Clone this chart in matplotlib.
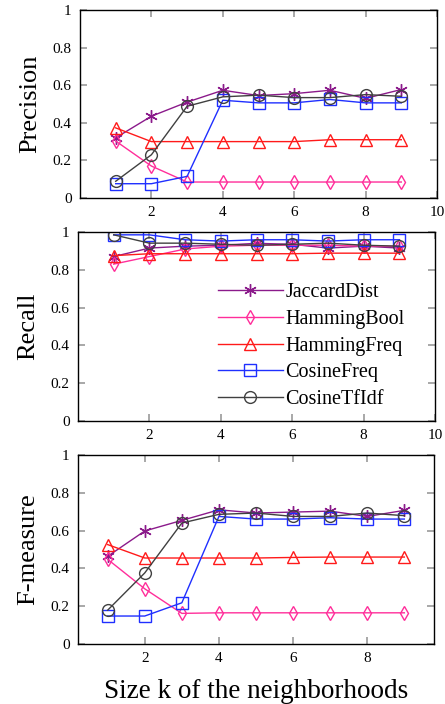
import matplotlib.pyplot as plt
import numpy as np

k = np.arange(1, 10)

names = ["JaccardDist", "HammingBool", "HammingFreq", "CosineFreq", "CosineTfIdf"]
colors = ["#8b1a8b", "#ff2e9a", "#ff1a1a", "#1f2fff", "#404040"]
markers = [(6, 2, 0), "d", "^", "s", "o"]
msizes = [9, 7, 8, 8.5, 8.5]

precision = {
    "JaccardDist": [0.32, 0.435, 0.51, 0.573, 0.545, 0.555, 0.573, 0.53, 0.577],
    "HammingBool": [0.303, 0.17, 0.085, 0.085, 0.085, 0.085, 0.085, 0.085, 0.085],
    "HammingFreq": [0.373, 0.30, 0.30, 0.30, 0.30, 0.30, 0.31, 0.31, 0.31],
    "CosineFreq": [0.076, 0.076, 0.115, 0.52, 0.506, 0.506, 0.524, 0.506, 0.506],
    "CosineTfIdf": [0.089, 0.23, 0.488, 0.538, 0.547, 0.534, 0.534, 0.55, 0.541],
}
recall = {
    "JaccardDist": [0.87, 0.915, 0.925, 0.93, 0.94, 0.935, 0.915, 0.925, 0.915],
    "HammingBool": [0.83, 0.87, 0.91, 0.925, 0.93, 0.93, 0.93, 0.925, 0.925],
    "HammingFreq": [0.875, 0.885, 0.885, 0.885, 0.885, 0.885, 0.888, 0.888, 0.888],
    "CosineFreq": [0.985, 0.985, 0.959, 0.952, 0.959, 0.959, 0.952, 0.959, 0.959],
    "CosineTfIdf": [0.985, 0.941, 0.941, 0.935, 0.93, 0.935, 0.941, 0.93, 0.925],
}
fmeasure = {
    "JaccardDist": [0.464, 0.598, 0.654, 0.71, 0.693, 0.698, 0.703, 0.675, 0.707],
    "HammingBool": [0.448, 0.292, 0.162, 0.165, 0.165, 0.165, 0.165, 0.165, 0.165],
    "HammingFreq": [0.526, 0.455, 0.455, 0.455, 0.455, 0.458, 0.46, 0.46, 0.46],
    "CosineFreq": [0.148, 0.148, 0.218, 0.675, 0.661, 0.661, 0.668, 0.661, 0.661],
    "CosineTfIdf": [0.179, 0.376, 0.64, 0.686, 0.693, 0.675, 0.675, 0.693, 0.679],
}

yticks = [0, 0.2, 0.4, 0.6, 0.8, 1]
ytick_labels = ["0", "0.2", "0.4", "0.6", "0.8", "1"]

plt.rcParams['font.family'] = ['Liberation Serif', 'DejaVu Serif']

fig = plt.figure(figsize=(4.45, 7.04), dpi=100)
boxes = [
    [80 / 445, 1 - 198 / 704, 357 / 445, 188 / 704],
    [78 / 445, 1 - 421 / 704, 357 / 445, 189 / 704],
    [78 / 445, 1 - 644 / 704, 356 / 445, 189 / 704],
]
datasets = [precision, recall, fmeasure]
ylabels = ["Precision", "Recall", "F-measure"]
xlims = [(0, 10), (0, 10), (0.2, 9.8)]

for i, (box, data, ylab, xl) in enumerate(zip(boxes, datasets, ylabels, xlims)):
    ax = fig.add_axes(box)
    for name, c, m, ms in zip(names, colors, markers, msizes):
        ax.plot(k, data[name], color=c, marker=m, ms=ms, mfc='none', mec=c,
                mew=1.0, lw=1.0, label=name)
    ax.set_xlim(*xl)
    ax.set_ylim(0, 1)
    ax.set_yticks(yticks, ytick_labels)
    ax.set_xticks([2, 4, 6, 8, 10] if i < 2 else [2, 4, 6, 8])
    ax.tick_params(direction='in', length=5, color='#999999', width=1.2,
                   top=True, right=True, labelsize=11, pad=6)
    for s in ax.spines.values():
        s.set_linewidth(1.0)
    ax.set_ylabel(ylab, fontsize=19, labelpad=8)
    if i == 1:
        ax.legend(loc='lower right', bbox_to_anchor=(0.955, -0.012), frameon=False,
                  fontsize=14.5, handlelength=3.2, labelspacing=0.38,
                  handletextpad=0.15, borderaxespad=0.3)
    if i == 2:
        ax.set_xlabel("Size k of the neighborhoods", fontsize=19.5, labelpad=10)

fig.savefig("out.png", dpi=100)
